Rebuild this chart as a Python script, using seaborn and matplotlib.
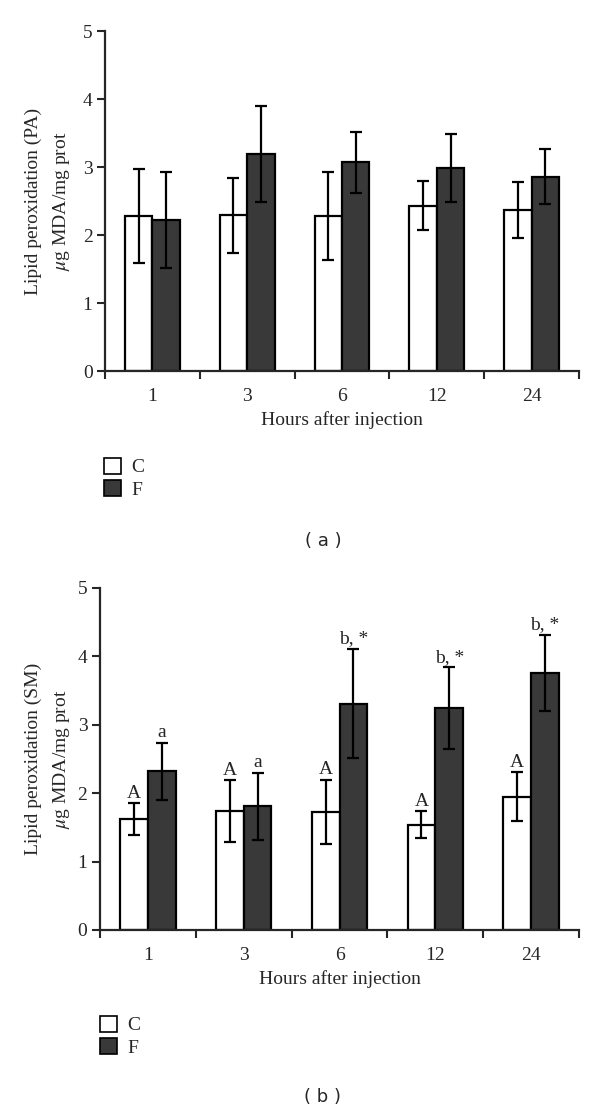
import numpy as np
import pandas as pd
import seaborn as sns
import matplotlib.pyplot as plt
from matplotlib.patches import Patch

# x categories and groups
hours = ["1", "3", "6", "12", "24"]
groups = ["C", "F"]

# panel (a): PA
pa_c = [2.28, 2.29, 2.28, 2.43, 2.37]
pa_c_err = [0.69, 0.55, 0.65, 0.36, 0.41]
pa_f = [2.22, 3.19, 3.07, 2.99, 2.86]
pa_f_err = [0.70, 0.70, 0.45, 0.50, 0.40]

# panel (b): SM
sm_c = [1.62, 1.74, 1.73, 1.54, 1.95]
sm_c_err = [0.23, 0.45, 0.47, 0.20, 0.36]
sm_f = [2.32, 1.81, 3.31, 3.24, 3.76]
sm_f_err = [0.42, 0.49, 0.80, 0.60, 0.56]
sm_c_marks = ["A", "A", "A", "A", "A"]
sm_f_marks = ["a", "a", "b, *", "b, *", "b, *"]

colors = {"C": "white", "F": "#393939"}
FS = 14

sns.set_style("ticks")
plt.rcParams["font.family"] = ["Liberation Serif", "DejaVu Serif"]
plt.rcParams["mathtext.fontset"] = "stix"

W, H = 600, 1114
fig = plt.figure(figsize=(W / 100, H / 100), dpi=100)


def px(x, y):
    # pixel position -> figure fraction
    return x / W, 1 - y / H


def draw_panel(left, top, bottom, c, c_err, f, f_err, ylabel, letter,
               leg_x, leg_y, letter_y, c_marks=None, f_marks=None):
    right = 579
    ax = fig.add_axes([left / W, 1 - bottom / H, (right - left) / W, (bottom - top) / H])
    df = pd.DataFrame({
        "hour": hours * 2,
        "group": ["C"] * len(hours) + ["F"] * len(hours),
        "value": c + f,
    })
    sns.barplot(data=df, x="hour", y="value", hue="group", order=hours,
                hue_order=groups, palette=colors, edgecolor="black",
                linewidth=1.6, width=0.58, errorbar=None, legend=False, ax=ax)

    marks = [c_marks, f_marks]
    for cont, vals, errs, mk in zip(ax.containers, [c, f], [c_err, f_err], marks):
        xs = [b.get_x() + b.get_width() / 2 for b in cont]
        ax.errorbar(xs, vals, yerr=errs, fmt="none", ecolor="black",
                    elinewidth=1.6, capsize=4, capthick=1.6)
        if mk is not None:
            for x, v, e, t in zip(xs, vals, errs, mk):
                ax.annotate(t, (x, v + e), xytext=(0, 1), textcoords="offset points",
                            ha="center", va="bottom", fontsize=FS)

    ax.set_ylim(0, 5)
    ax.set_xlim(-0.5, len(hours) - 0.5)
    ax.set_yticks(range(6))
    ax.set_xticks(range(len(hours)))
    ax.set_xticks(np.arange(-0.5, len(hours), 1), minor=True)
    ax.tick_params(axis="x", which="major", length=0, pad=12, labelsize=FS)
    ax.tick_params(axis="x", which="minor", length=6, width=1.5, direction="out")
    ax.tick_params(axis="y", length=6, width=1.5, direction="out", pad=3, labelsize=FS)
    sns.despine(ax=ax)
    for s in ["left", "bottom"]:
        ax.spines[s].set_linewidth(1.6)
    ax.set_xlabel("Hours after injection", fontsize=FS, labelpad=5)
    ax.set_ylabel("")

    fig.text(*px(48, (top + bottom) / 2), ylabel, rotation=90, ha="center",
             va="center", fontsize=FS, linespacing=1.6, multialignment="center")

    handles = [Patch(facecolor=colors[g], edgecolor="black", linewidth=1.2, label=g)
               for g in groups]
    fig.legend(handles=handles, loc="upper left", bbox_to_anchor=px(leg_x, leg_y),
               frameon=False, fontsize=FS, handlelength=0.85, handleheight=0.85,
               handletextpad=0.55, labelspacing=0.2, borderpad=0, borderaxespad=0)

    fig.text(*px(323, letter_y), letter, ha="center", va="center",
             fontsize=13, family=["DejaVu Sans"])
    return ax


draw_panel(105, 31, 371, pa_c, pa_c_err, pa_f, pa_f_err,
           "Lipid peroxidation (PA)\n$\\mu$g MDA/mg prot", "( a )",
           104, 458, 541)
draw_panel(100, 588, 930, sm_c, sm_c_err, sm_f, sm_f_err,
           "Lipid peroxidation (SM)\n$\\mu$g MDA/mg prot", "( b )",
           100, 1016, 1097, sm_c_marks, sm_f_marks)

fig.savefig("out.png", dpi=100)
